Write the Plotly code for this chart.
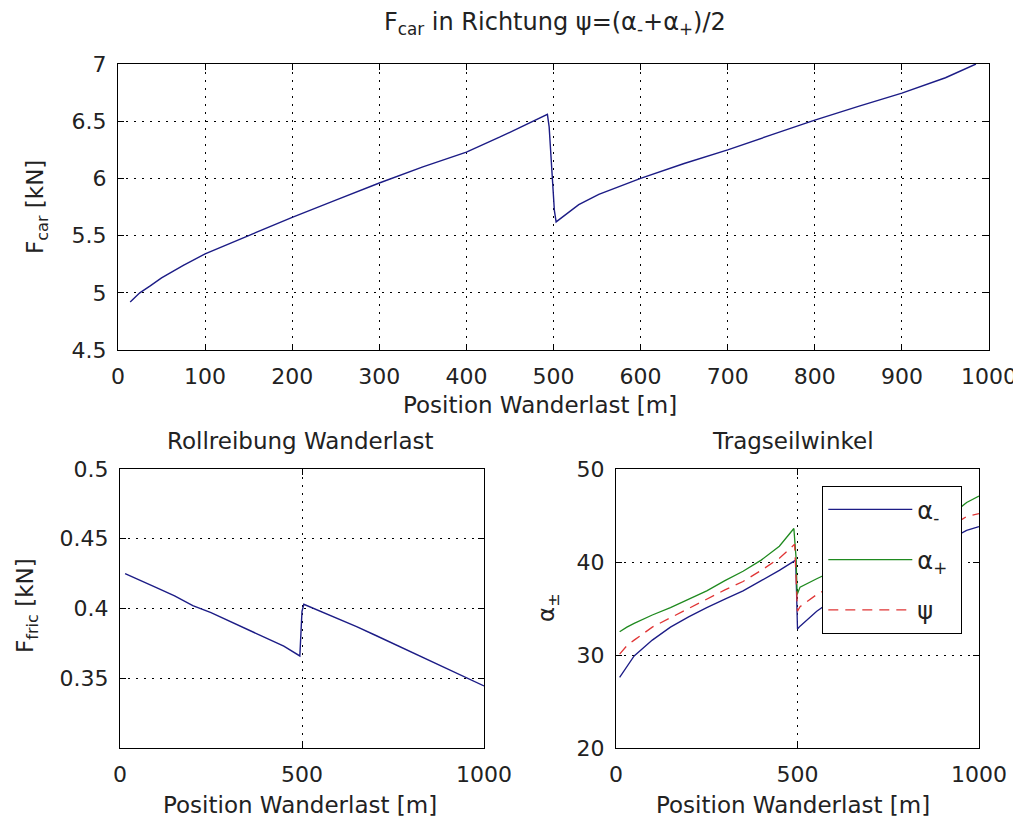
import plotly.graph_objects as go

# ---------------- data ----------------
pos_top = [14, 25, 37, 50, 75, 100, 150, 200, 250, 300, 350, 400, 438, 460, 480, 493,
           495, 497, 499, 501, 503, 529, 552, 600, 650, 700, 750, 800, 850, 900, 950, 985]
f_car = [4.92, 5.00, 5.06, 5.13, 5.24, 5.34, 5.50, 5.66, 5.81, 5.96, 6.10, 6.23, 6.36, 6.44, 6.51, 6.56,
         6.45, 6.20, 5.95, 5.72, 5.62, 5.77, 5.86, 6.00, 6.13, 6.25, 6.38, 6.51, 6.63, 6.745, 6.88, 7.00]

pos_fric = [14, 50, 100, 150, 200, 250, 300, 350, 400, 450, 494, 496, 498, 500, 505,
            550, 600, 650, 700, 750, 800, 850, 900, 950, 1000]
f_fric = [0.425, 0.421, 0.415, 0.409, 0.402, 0.397, 0.391, 0.385, 0.379, 0.373, 0.366, 0.375, 0.390, 0.398, 0.403,
          0.398, 0.393, 0.387, 0.381, 0.375, 0.369, 0.363, 0.357, 0.351, 0.3445]

pos_am = [10, 30, 50, 100, 150, 200, 250, 300, 350, 400, 450, 495, 497, 500, 507,
          553, 600, 650, 700, 750, 800, 850, 900, 950, 966, 1000]
alpha_minus = [27.6, 28.8, 29.9, 31.6, 33.0, 34.1, 35.1, 36.0, 36.9, 38.0, 39.1, 40.2, 36.0, 32.8, 33.1,
               34.7, 36.0, 37.1, 38.1, 39.1, 40.0, 41.0, 42.0, 43.0, 43.4, 43.8]

pos_ap = [10, 30, 50, 100, 150, 200, 250, 300, 350, 400, 450, 490, 496, 499, 507,
          553, 600, 650, 700, 750, 800, 850, 900, 950, 966, 1000]
alpha_plus = [32.5, 33.0, 33.4, 34.3, 35.1, 36.0, 36.9, 38.0, 39.0, 40.2, 41.7, 43.6, 40.5, 36.5, 37.3,
              38.2, 39.1, 40.0, 40.9, 41.8, 42.8, 43.8, 44.8, 45.9, 46.4, 47.1]

pos_psi = [10, 30, 50, 100, 150, 200, 250, 300, 350, 400, 450, 492, 496, 500, 507,
           553, 600, 650, 700, 750, 800, 850, 900, 950, 966, 1000]
psi = [30.1, 31.0, 31.6, 33.0, 34.0, 35.0, 36.0, 37.0, 37.9, 39.1, 40.4, 41.9, 38.5, 34.7, 35.2,
       36.5, 37.5, 38.6, 39.5, 40.5, 41.4, 42.4, 43.4, 44.5, 44.9, 45.2]

top_xticks = [0, 100, 200, 300, 400, 500, 600, 700, 800, 900, 1000]
top_yticks = [4.5, 5, 5.5, 6, 6.5, 7]
bot_xticks = [0, 500, 1000]
fric_yticks = [0.35, 0.4, 0.45, 0.5]
fric_ytext = ["0.35", "0.4", "0.45", "0.5"]
ang_yticks = [20, 30, 40, 50]

# ---------------- layout helpers ----------------
# the html page body has an 8px margin; the figure starts at (8, 8) and runs to the window edge
OFF = 8
FW, FH = 1021 - OFF, 823 - OFF
def px(x):
    return (x - OFF) / FW
def py(y):
    return 1 - (y - OFF) / FH

FONT = "DejaVu Sans"
BLUE = "#1c1c86"
GREEN = "#1f8a1f"
RED = "#e03535"
TXT = "#222"
NB = "\u00a0"

fig = go.Figure()
fig.add_trace(go.Scatter(x=pos_top, y=f_car, mode="lines", line=dict(color=BLUE, width=1.4),
                         xaxis="x", yaxis="y", showlegend=False))
fig.add_trace(go.Scatter(x=pos_fric, y=f_fric, mode="lines", line=dict(color=BLUE, width=1.4),
                         xaxis="x2", yaxis="y2", showlegend=False))
fig.add_trace(go.Scatter(x=pos_am, y=alpha_minus, mode="lines", name="α<sub>-</sub>" + NB,
                         line=dict(color=BLUE, width=1.3), xaxis="x3", yaxis="y3", legendgroup="a"))
fig.add_trace(go.Scatter(x=pos_ap, y=alpha_plus, mode="lines", name="α<sub>+</sub>" + NB,
                         line=dict(color=GREEN, width=1.3), xaxis="x3", yaxis="y3", legendgroup="b"))
fig.add_trace(go.Scatter(x=pos_psi, y=psi, mode="lines", name="ψ" + NB,
                         line=dict(color=RED, width=1.3, dash="10px,7px"), xaxis="x3", yaxis="y3", legendgroup="c"))

def axis(**kw):
    d = dict(showline=True, linecolor="black", linewidth=1.3, mirror="allticks",
             ticks="inside", ticklen=6, tickcolor="black", tickwidth=1,
             showgrid=True, gridcolor="black", griddash="2px,6px", gridwidth=1,
             zeroline=False, automargin=False,
             tickfont=dict(family=FONT, size=22, color=TXT),
             ticklabelstandoff=6)
    d.update(kw)
    return d

fig.update_layout(
    width=FW, height=FH,
    margin=dict(l=0, r=0, t=0, b=0, pad=0, autoexpand=False),
    paper_bgcolor="white", plot_bgcolor="white",
    xaxis=axis(domain=[px(118), px(989)], range=[0, 1000], tickvals=top_xticks, anchor="y"),
    yaxis=axis(domain=[py(350), py(64)], range=[4.5, 7], tickvals=top_yticks, anchor="x"),
    xaxis2=axis(domain=[px(120), px(484)], range=[0, 1000], tickvals=bot_xticks, anchor="y2"),
    yaxis2=axis(domain=[py(748), py(469)], range=[0.3, 0.5], tickvals=fric_yticks, ticktext=fric_ytext, anchor="x2"),
    xaxis3=axis(domain=[px(616), px(979)], range=[0, 1000], tickvals=bot_xticks, anchor="y3"),
    yaxis3=axis(domain=[py(748), py(469)], range=[20, 50], tickvals=ang_yticks, anchor="x3"),
    legend=dict(x=px(822), y=py(486), xanchor="left", yanchor="top", bgcolor="white",
                bordercolor="black", borderwidth=1.3, font=dict(family=FONT, size=24, color=TXT),
                itemwidth=84, traceorder="grouped", tracegroupgap=16),
    showlegend=True,
)

title_font = dict(family=FONT, size=24, color=TXT)
sub_font = dict(family=FONT, size=23, color=TXT)
lab_font = dict(family=FONT, size=23, color=TXT)
annotations = [
    dict(text="F<sub>car</sub> in Richtung ψ=(α<sub>-</sub>+α<sub>+</sub>)/2", x=px(555), y=py(24), font=title_font),
    dict(text="Position Wanderlast [m]", x=px(540), y=py(405), font=lab_font),
    dict(text="F<sub>car</sub> [kN]", x=px(37), y=py(207), font=lab_font, textangle=-90),
    dict(text="Rollreibung Wanderlast", x=px(300), y=py(441), font=sub_font),
    dict(text="F<sub>fric</sub> [kN]", x=px(27), y=py(606), font=lab_font, textangle=-90),
    dict(text="Position Wanderlast [m]", x=px(300), y=py(805), font=lab_font),
    dict(text="Tragseilwinkel", x=px(793), y=py(441), font=sub_font),
    dict(text="α<sub>±</sub>", x=px(548), y=py(608), font=lab_font, textangle=-90),
    dict(text="Position Wanderlast [m]", x=px(793), y=py(805), font=lab_font),
]
for a in annotations:
    a.update(xref="paper", yref="paper", showarrow=False, xanchor="center", yanchor="middle")
fig.update_layout(annotations=annotations)

fig.write_html("out.html")
